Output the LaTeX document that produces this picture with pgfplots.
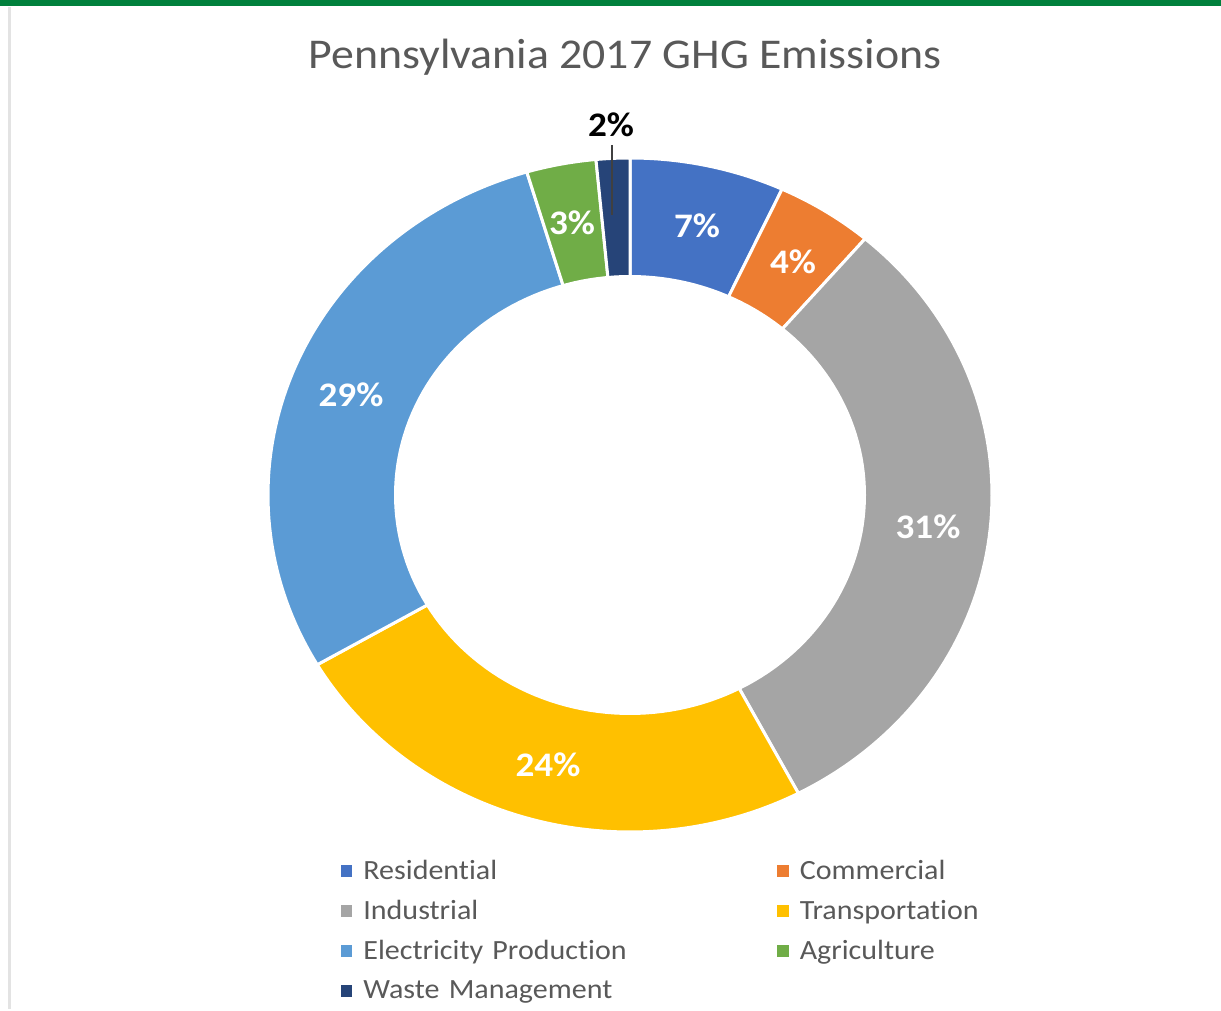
\documentclass[border=0pt]{standalone}
\usepackage{fontspec}
\setmainfont{Carlito}[FakeStretch=1.08, Ligatures=NoCommon]
\usepackage{pgfplots}
\usepackage{pgfplotstable}
\pgfplotsset{compat=1.18}

\definecolor{cRes}{HTML}{4472C4}
\definecolor{cCom}{HTML}{ED7D31}
\definecolor{cInd}{HTML}{A5A5A5}
\definecolor{cTra}{HTML}{FFC000}
\definecolor{cEle}{HTML}{5B9BD5}
\definecolor{cAgr}{HTML}{70AD47}
\definecolor{cWas}{HTML}{264478}
\definecolor{txtgray}{HTML}{595959}
\definecolor{topgreen}{HTML}{00803C}

% shares in percent, clockwise from 12 o'clock
\pgfplotstableread{
sector value color
Residential 6.9 cRes
Commercial 4.35 cCom
Industrial 31.05 cInd
Transportation 24.3 cTra
Electricity 28.8 cEle
Agriculture 3.1 cAgr
Waste 1.5 cWas
}\ghgdata

% geometry in pixel units of the picture (1px = 0.5pt)
\def\cx{630}
\def\cy{514}
\def\rx{362}
\def\ry{337}
\def\irx{236}
\def\iry{220}

\begin{document}
\begin{tikzpicture}
\begin{axis}[
  scale only axis, width=610.5pt, height=504.5pt,
  xmin=0, xmax=1221, ymin=0, ymax=1009,
  hide axis, clip=false,
  legend entries={Residential,Commercial,Industrial,Transportation,Electricity Production,Agriculture,Waste Management},
  legend columns=2,
  legend cell align=left,
  legend image code/.code={\fill[#1,draw=none] (0pt,-2.8pt) rectangle (5.6pt,2.8pt);},
  legend style={draw=none, fill=none, inner sep=0pt, outer sep=0pt,
    at={(axis cs:341,158)}, anchor=north west,
    font=\fontsize{13.9}{15}\selectfont, text=txtgray,
    nodes={inner sep=0pt, minimum height=20pt, text width=200pt},
    row sep=0pt,
    /tikz/every odd column/.style={column sep=5.6pt},
    /tikz/every even column/.style={column sep=7pt}},
]
\path[fill=white] (axis cs:0,0) rectangle (axis cs:1221,1009);
\fill[topgreen] (axis cs:0,1003) rectangle (axis cs:1221,1009);
\fill[gray!22] (axis cs:8,0) rectangle (axis cs:11,1002);

\def\angA{0}
\pgfplotsforeachungrouped \i in {0,...,6}{
  \pgfplotstablegetelem{\i}{value}\of\ghgdata
  \let\segval\pgfplotsretval
  \pgfplotstablegetelem{\i}{color}\of\ghgdata
  \let\segcol\pgfplotsretval
  \pgfmathsetmacro\angB{\angA+3.6*\segval}
  \edef\cmd{\noexpand\addplot[fill=\segcol, draw=white, line width=1.5pt,
     domain=\angA:\angB, samples=80]
     ({\cx+\rx*sin(x)},{\cy+\ry*cos(x)}) -- (\cx,\cy) -- cycle;}
  \cmd
  \global\let\angA\angB
}
\addplot[forget plot, fill=white, draw=none, domain=0:360, samples=181]
  ({\cx+\irx*sin(x)},{\cy+\iry*cos(x)}) -- cycle;

\begin{scope}[font=\fontsize{17.2}{19}\selectfont\bfseries, text=white]
\node at (axis cs:697,783) {7\%};
\node at (axis cs:793,747) {4\%};
\node at (axis cs:928,482) {31\%};
\node at (axis cs:548,244) {24\%};
\node at (axis cs:351,614) {29\%};
\node at (axis cs:572,786) {3\%};
\node[text=black] at (axis cs:611,884) {2\%};
\end{scope}
\draw[black!75, line width=1pt] (axis cs:612,864) -- (axis cs:612,794);

\node[text=txtgray, font=\fontsize{21.2}{24}\selectfont] at (axis cs:625,952) {Pennsylvania 2017 GHG Emissions};
\end{axis}
\end{tikzpicture}
\end{document}
